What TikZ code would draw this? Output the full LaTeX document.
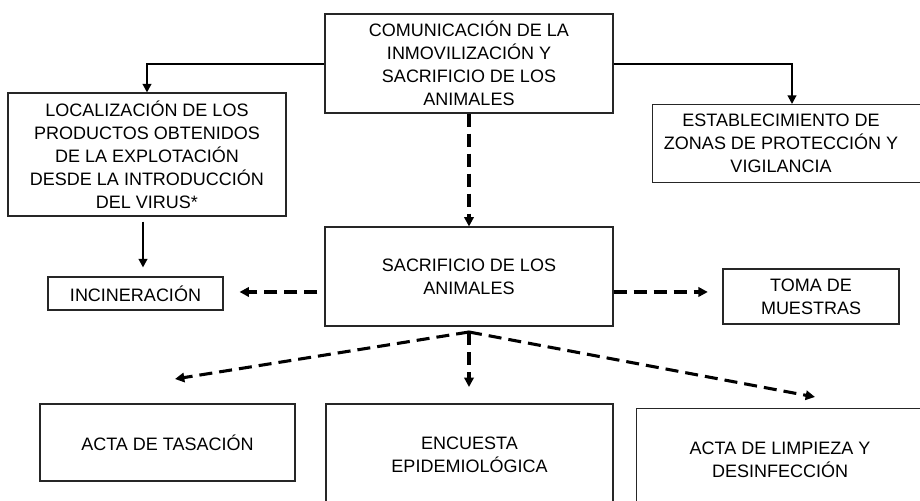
\documentclass[tikz,border=0pt]{standalone}
\usepackage{fontspec}
\setmainfont{Liberation Sans}
\usetikzlibrary{arrows.meta}
\tikzset{
  box/.style={draw=black!85, line width=0.8pt, rectangle, inner sep=0pt, align=center,
    font=\fontsize{13.5pt}{17.25pt}\selectfont},
  txt/.style={inner sep=0pt, align=center, font=\fontsize{13.5pt}{17.25pt}\selectfont},
  solidarr/.style={line width=1.5pt, -{Triangle[length=6.5pt,width=6.5pt]}},
  dasharr/.style={line width=2.3pt, dash pattern=on 9.75pt off 5.25pt,
    -{Triangle[length=7pt,width=7pt]}}
}
\begin{document}
\begin{tikzpicture}[x=0.75pt,y=-0.75pt]
\useasboundingbox[fill=white] (0,0) rectangle (920,500);
% boxes
\node[box, minimum width=288*0.75pt, minimum height=99*0.75pt] (top) at (469,63.5)
  {COMUNICACIÓN DE LA\\INMOVILIZACIÓN Y\\SACRIFICIO DE LOS\\ANIMALES};
\node[box, minimum width=278*0.75pt, minimum height=123*0.75pt] (loc) at (147,154.5)
  {LOCALIZACIÓN DE LOS\\PRODUCTOS OBTENIDOS\\DE LA EXPLOTACIÓN\\DESDE LA INTRODUCCIÓN\\DEL VIRUS*};
\node[box, minimum width=300*0.75pt, minimum height=78*0.75pt, anchor=north west] (est) at (652,104) {};
\node[txt] (estt) at (781,143) {ESTABLECIMIENTO DE\\ZONAS DE PROTECCIÓN Y\\VIGILANCIA};
\node[box, minimum width=288*0.75pt, minimum height=99*0.75pt] (mid) at (469,276.5)
  {SACRIFICIO DE LOS\\ANIMALES};
\node[box, minimum width=175*0.75pt, minimum height=33*0.75pt] (inc) at (135.5,293.5)
  {INCINERACIÓN};
\node[box, minimum width=176*0.75pt, minimum height=55*0.75pt] (toma) at (811,296.5)
  {TOMA DE\\MUESTRAS};
\node[box, minimum width=255*0.75pt, minimum height=77*0.75pt] (tas) at (167.5,442.5)
  {ACTA DE TASACIÓN};
\node[box, minimum width=287*0.75pt, minimum height=102*0.75pt] (enc) at (469.5,455)
  {ENCUESTA\\EPIDEMIOLÓGICA};
\node[box, minimum width=320*0.75pt, minimum height=110*0.75pt, anchor=north west] (lim) at (636,408) {};
\node[txt] (limt) at (780,459.5) {ACTA DE LIMPIEZA Y\\DESINFECCIÓN};
% free ends
\coordinate (src) at (469,332);
\coordinate (endtas) at (175,379);
\coordinate (endenc) at (469,387);
\coordinate (endlim) at (815,397);
% connectors
\draw[solidarr] (top.west) -| (loc.north);
\draw[solidarr] (top.east) -| ([xshift=105pt]est.north west);
\draw[dasharr] (top.south) -- (mid.north);
\draw[solidarr, shorten <=3.75pt, shorten >=6.75pt] ([xshift=-3pt]loc.south) -- ([xshift=-3pt]loc.south |- inc.north);
\draw[dasharr, shorten <=5.25pt, shorten >=12pt] ([yshift=-11.6pt]mid.west) -- ([yshift=-11.6pt]mid.west -| inc.east);
\draw[dasharr, shorten >=11pt] ([yshift=-11.6pt]mid.east) -- ([yshift=-11.6pt]mid.east -| toma.west);
\draw[dasharr] (src) -- (endtas);
\draw[dasharr] (src) -- (endenc);
\draw[dasharr] (src) -- (endlim);
\end{tikzpicture}
\end{document}
